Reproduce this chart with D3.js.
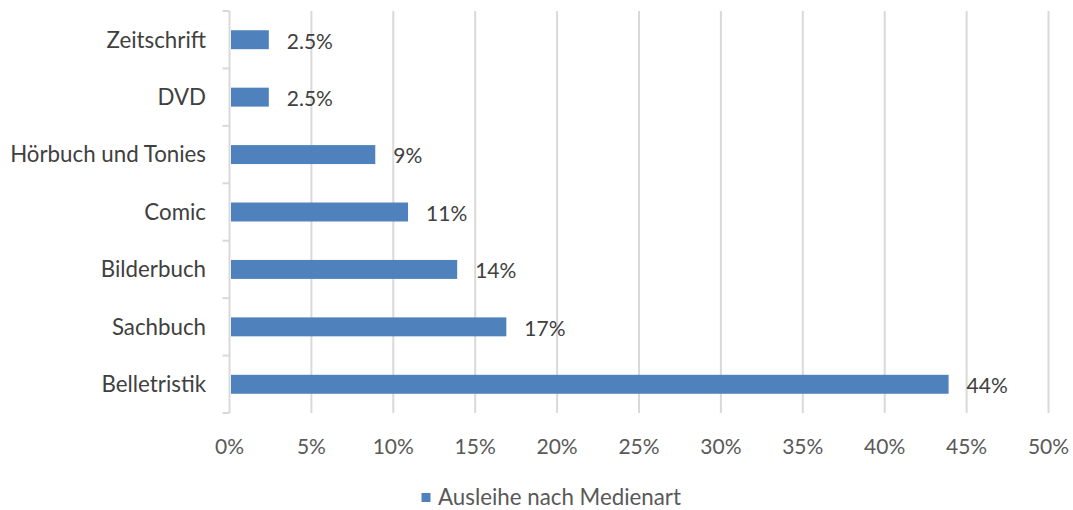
<!DOCTYPE html>
<html><head><meta charset="utf-8">
<script src="https://cdn.jsdelivr.net/npm/d3@7"></script>
<style>body{margin:0;background:#fff}svg{display:block}text{font-family:Lato,"Noto Sans",sans-serif}</style>
</head><body><svg id="c" width="1073" height="510"></svg>
<script>
const categories = ["Zeitschrift","DVD","Hörbuch und Tonies","Comic","Bilderbuch","Sachbuch","Belletristik"];
const values = [2.4, 2.4, 8.9, 10.9, 13.9, 16.9, 43.9];
const valueLabels = ["2.5%","2.5%","9%","11%","14%","17%","44%"];
const xTicks = [0,5,10,15,20,25,30,35,40,45,50];
const seriesName = "Ausleihe nach Medienart";

const svg = d3.select("#c");
const x = d3.scaleLinear().domain([0,50]).range([229.5,1048.5]);
const y = d3.scaleBand().domain(categories).range([11,413]).paddingInner(0.67).paddingOuter(0.335);
const bandStep = y.step();

// gridlines
svg.append("g").selectAll("line").data(xTicks.slice(1)).join("line")
  .attr("x1",d=>x(d)).attr("x2",d=>x(d)).attr("y1",11).attr("y2",413)
  .attr("stroke","#d9d9d9").attr("stroke-width",2);

// left axis line and ticks
const ax = svg.append("g");
ax.append("line").attr("x1",x(0)).attr("x2",x(0)).attr("y1",11).attr("y2",413).attr("stroke","#d9d9d9").attr("stroke-width",2);
const bounds = categories.map((c,i)=>11+i*bandStep).concat([413]);
ax.selectAll("line.t").data(bounds).join("line").attr("class","t")
  .attr("x1",x(0)-7).attr("x2",x(0)).attr("y1",d=>d).attr("y2",d=>d)
  .attr("stroke","#d9d9d9").attr("stroke-width",2);

// category labels
svg.append("g").selectAll("text").data(categories).join("text")
  .attr("x",206).attr("y",d=>y(d)+y.bandwidth()/2).attr("dy","0.35em")
  .attr("text-anchor","end").attr("font-size",22.3).attr("fill","#404040").text(d=>d);

// bars
svg.append("g").selectAll("rect").data(categories).join("rect")
  .attr("x",x(0)+1.5).attr("y",d=>y(d)).attr("height",y.bandwidth())
  .attr("width",(d,i)=>x(values[i])-x(0)-1.5)
  .attr("fill","#4f81bd");

// value labels
svg.append("g").selectAll("text").data(categories).join("text")
  .attr("x",(d,i)=>x(values[i])+18).attr("y",d=>y(d)+y.bandwidth()/2+1.5).attr("dy","0.35em")
  .attr("font-size",21).attr("fill","#404040").text((d,i)=>valueLabels[i]);

// x tick labels
svg.append("g").selectAll("text").data(xTicks).join("text")
  .attr("x",d=>x(d)).attr("y",447).attr("dy","0.35em").attr("text-anchor","middle")
  .attr("font-size",21).attr("fill","#595959").text(d=>d+"%");

// legend
const lg = svg.append("g");
lg.append("rect").attr("x",421.5).attr("y",493).attr("width",9).attr("height",9).attr("fill","#4f81bd");
lg.append("text").attr("x",438).attr("y",497.5).attr("dy","0.35em").attr("font-size",22.3).attr("fill","#595959").text(seriesName);
</script></body></html>
